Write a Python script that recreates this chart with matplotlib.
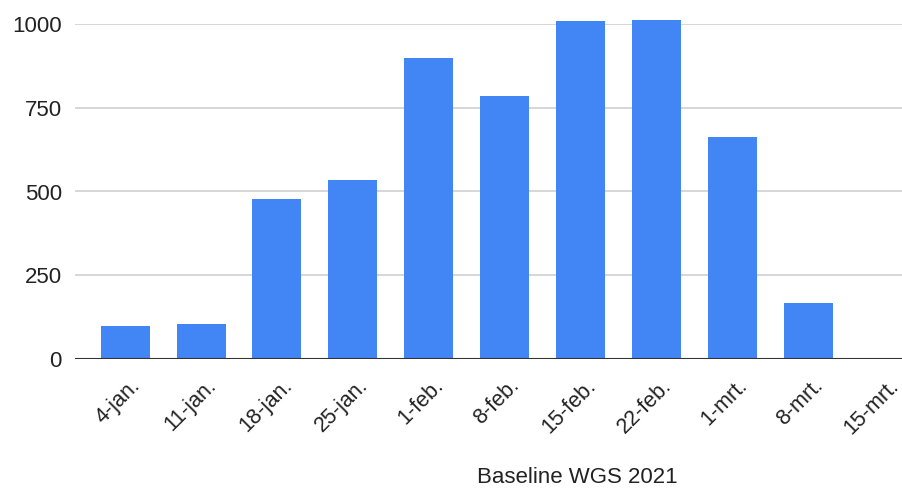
import matplotlib
matplotlib.use("Agg")
import matplotlib.pyplot as plt
from matplotlib.transforms import ScaledTranslation

weeks = ["4-jan.", "11-jan.", "18-jan.", "25-jan.", "1-feb.", "8-feb.",
         "15-feb.", "22-feb.", "1-mrt.", "8-mrt.", "15-mrt."]
samples = [98, 104, 478, 535, 899, 786, 1008, 1013, 662, 166, 0]
y_ticks = [0, 250, 500, 750, 1000]
title = "Baseline WGS 2021"

plt.rcParams["font.family"] = ["Liberation Sans", "DejaVu Sans"]

fig = plt.figure(figsize=(9.03, 4.90), dpi=100)
ax = fig.add_axes([75 / 903, 1 - 359 / 490, 1 - 75 / 903, (359 - 24) / 490])

x = list(range(len(weeks)))
bars = ax.bar(x, samples, width=0.645, color="#4285F4", zorder=3)
for b in bars:
    b.set_clip_on(False)

ax.set_xlim(-0.661, 10.25)
ax.set_ylim(0, 1000)
ax.set_yticks(y_ticks)
ax.set_yticklabels([str(v) for v in y_ticks])
ax.grid(axis="y", color="#d0d0d0", linewidth=1.2, zorder=0)
ax.axhline(0, color="#333333", linewidth=1.5, zorder=4)

for side in ["top", "right", "left", "bottom"]:
    ax.spines[side].set_visible(False)

ax.tick_params(axis="y", length=0, pad=9.5, labelsize=16, labelcolor="#222222")
ax.tick_params(axis="x", length=0, pad=17, labelsize=15.5, labelcolor="#222222")
ax.set_xticks(x)
ax.set_xticklabels(weeks, rotation=45, ha="right", va="center",
                   rotation_mode="anchor")
shift = ScaledTranslation(0.12, 0, fig.dpi_scale_trans)
for lbl in ax.get_xticklabels():
    lbl.set_transform(lbl.get_transform() + shift)

fig.text(577.7 / 903, 1 - 477.5 / 490, title, ha="center", va="center",
         fontsize=16, color="#222222")

fig.savefig("out.png", dpi=100)
